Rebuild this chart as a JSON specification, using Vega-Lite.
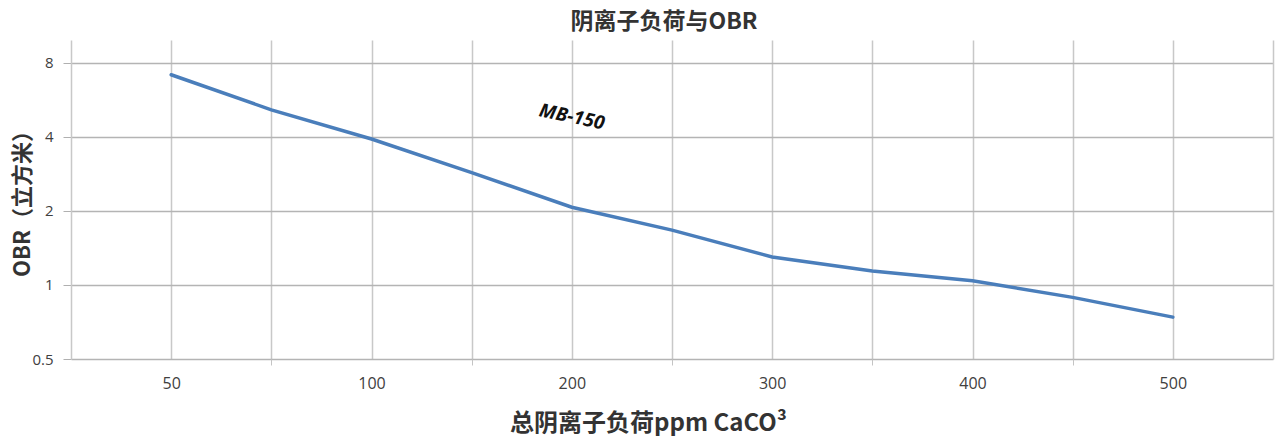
{
  "$schema": "https://vega.github.io/schema/vega-lite/v6.json",
  "description": "阴离子负荷与OBR: OBR (log scale) against total anion load for MB-150.",
  "width": 1202,
  "height": 319,
  "autosize": "none",
  "padding": {"left": 71, "top": 40, "right": 4, "bottom": 88},
  "background": "#ffffff",
  "title": {
    "text": "阴离子负荷与OBR",
    "font": "Noto Sans CJK SC",
    "fontSize": 23,
    "fontWeight": "bold",
    "color": "#333333",
    "anchor": "middle",
    "dx": -8,
    "offset": 6
  },
  "layer": [
    {
      "data": {
        "values": [
          {"ppm": 50, "obr": 7.15},
          {"ppm": 75, "obr": 5.15},
          {"ppm": 100, "obr": 3.92},
          {"ppm": 150, "obr": 2.86},
          {"ppm": 200, "obr": 2.07},
          {"ppm": 250, "obr": 1.67},
          {"ppm": 300, "obr": 1.3},
          {"ppm": 350, "obr": 1.14},
          {"ppm": 400, "obr": 1.04},
          {"ppm": 450, "obr": 0.89},
          {"ppm": 500, "obr": 0.74}
        ]
      },
      "mark": {"type": "line", "color": "#4a7ebb", "strokeWidth": 3.5, "strokeCap": "round"},
      "encoding": {
        "x": {
          "field": "ppm",
          "type": "ordinal",
          "scale": {"type": "point", "padding": 1},
          "axis": {
            "title": "总阴离子负荷ppm CaCO³",
            "titleFont": "Noto Sans CJK SC",
            "titleFontSize": 24,
            "titleFontWeight": "bold",
            "titleColor": "#333333",
            "titlePadding": 20,
            "titleX": 577,
            "labelAngle": 0,
            "labelFont": "Open Sans",
            "labelFontSize": 16,
            "labelColor": "#404040",
            "labelPadding": 10,
            "labelExpr": "indexof([75, 150, 250, 350, 450], datum.value) >= 0 ? '' : datum.label",
            "tickSize": 6,
            "tickColor": {
              "condition": {"test": "indexof([75, 150, 250, 350, 450], datum.value) >= 0", "value": "#c4c4c4"},
              "value": "transparent"
            },
            "domain": false,
            "grid": true,
            "gridColor": "#c8c8c8",
            "gridWidth": 1.5
          }
        },
        "y": {
          "field": "obr",
          "type": "quantitative",
          "scale": {"type": "log", "domain": [0.5, 9.9], "nice": false},
          "axis": {
            "title": "OBR（立方米）",
            "titleFont": "Noto Sans CJK SC",
            "titleFontSize": 22,
            "titleFontWeight": "bold",
            "titleColor": "#333333",
            "titleX": -49,
            "titleY": 158,
            "titleAnchor": "middle",
            "titleBaseline": "middle",
            "values": [0.5, 1, 2, 4, 8],
            "labelFont": "Open Sans",
            "labelFontSize": 15,
            "labelColor": "#404040",
            "labelPadding": 10,
            "tickSize": 8,
            "tickColor": "#b0b0b0",
            "domain": true,
            "domainColor": "#c8c8c8",
            "domainWidth": 1.5,
            "grid": true,
            "gridColor": "#b4b4b4",
            "gridWidth": 1.5
          }
        }
      }
    },
    {
      "data": {"values": [{"ppm": 200, "obr": 4.82, "label": "MB-150"}]},
      "mark": {
        "type": "text",
        "font": "Open Sans",
        "fontSize": 19,
        "fontWeight": "bold",
        "fontStyle": "italic",
        "color": "#111111",
        "angle": 12
      },
      "encoding": {
        "x": {"field": "ppm", "type": "ordinal"},
        "y": {
          "field": "obr",
          "type": "quantitative",
          "axis": {"orient": "right", "title": null, "labels": false, "ticks": true, "tickSize": 6, "tickColor": "transparent", "domain": true, "domainColor": "#c8c8c8", "domainWidth": 1.5, "grid": false, "values": [0.5, 1, 2, 4, 8]}
        },
        "text": {"field": "label", "type": "nominal"}
      }
    }
  ],
  "resolve": {"axis": {"y": "independent"}},
  "config": {
    "view": {"stroke": null}
  }
}
